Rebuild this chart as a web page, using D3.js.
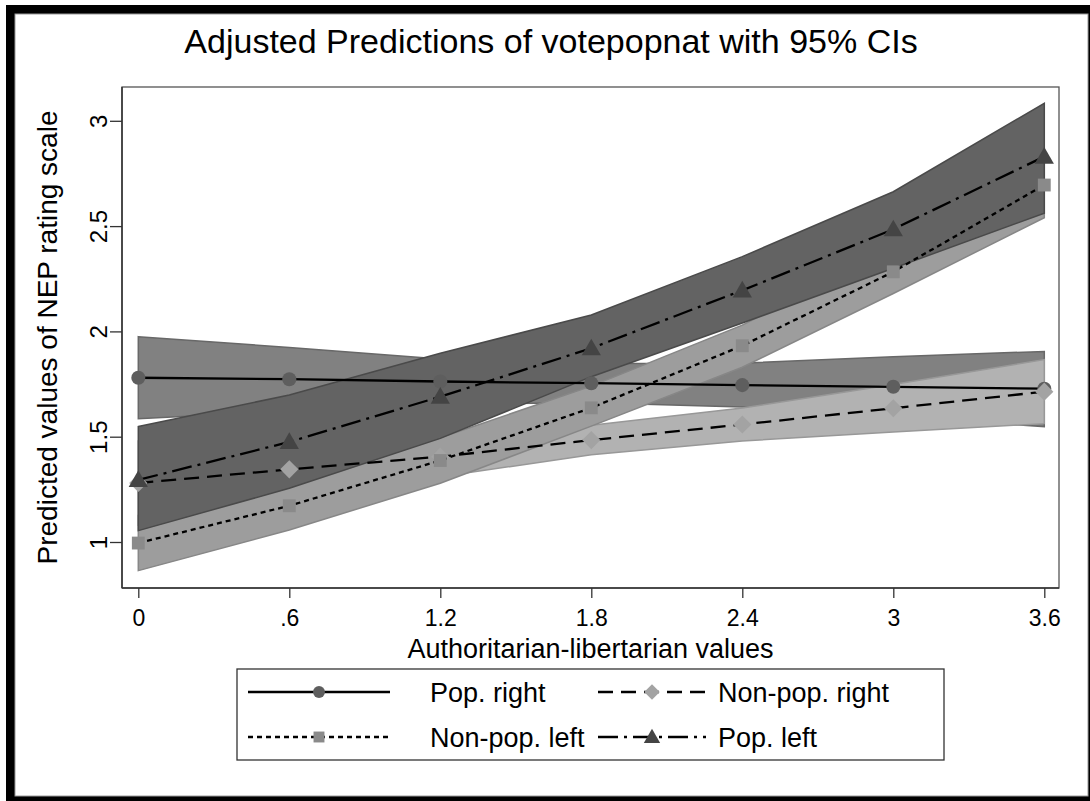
<!DOCTYPE html>
<html>
<head>
<meta charset="utf-8">
<script src="https://cdn.jsdelivr.net/npm/d3@7"></script>
<style>
  html, body { margin: 0; padding: 0; background: #fff; }
  svg { display: block; }
  text { font-family: "Liberation Sans", Arial, sans-serif; fill: #000; }
</style>
</head>
<body>
<svg id="chart" width="1090" height="801"></svg>
<script>
// ---------------- data ----------------
const xValues = [0, 0.6, 1.2, 1.8, 2.4, 3, 3.6];
const xTickLabels = ["0", ".6", "1.2", "1.8", "2.4", "3", "3.6"];
const yTickValues = [1, 1.5, 2, 2.5, 3];
const yTickLabels = ["1", "1.5", "2", "2.5", "3"];

const seriesNames = ["Pop. right", "Non-pop. right", "Non-pop. left", "Pop. left"];

const popRight      = [1.780, 1.773, 1.762, 1.754, 1.745, 1.737, 1.728];
const popRightLo    = [1.585, 1.622, 1.655, 1.661, 1.641, 1.594, 1.548];
const popRightHi    = [1.975, 1.924, 1.869, 1.847, 1.849, 1.880, 1.905];

const nonPopRight   = [1.280, 1.345, 1.405, 1.484, 1.558, 1.635, 1.714];
const nonPopRightLo = [1.080, 1.205, 1.310, 1.414, 1.480, 1.522, 1.562];
const nonPopRightHi = [1.480, 1.485, 1.500, 1.554, 1.636, 1.748, 1.866];

const nonPopLeft    = [0.995, 1.172, 1.387, 1.637, 1.932, 2.283, 2.695];
const nonPopLeftLo  = [0.864, 1.057, 1.279, 1.550, 1.830, 2.180, 2.540];
const nonPopLeftHi  = [1.126, 1.286, 1.495, 1.740, 2.030, 2.390, 2.850];

const popLeft       = [1.295, 1.475, 1.690, 1.920, 2.195, 2.485, 2.830];
const popLeftLo     = [1.054, 1.255, 1.492, 1.785, 2.040, 2.300, 2.561];
const popLeftHi     = [1.548, 1.698, 1.896, 2.078, 2.355, 2.663, 3.083];

// ---------------- styles ----------------
const styles = [
  { band: "#818181", bandStroke: "#686868", marker: "circle",  mfill: "#5e5e5e", dash: null },
  { band: "#b2b2b2", bandStroke: "#989898", marker: "diamond", mfill: "#a3a3a3", dash: "15,8" },
  { band: "#9d9d9d", bandStroke: "#878787", marker: "square",  mfill: "#8a8a8a", dash: "5,4" },
  { band: "#636363", bandStroke: "#4a4a4a", marker: "triangle",mfill: "#444444", dash: "20,6,3,6" }
];

const series = [
  { name: seriesNames[0], mid: popRight,    lo: popRightLo,    hi: popRightHi },
  { name: seriesNames[1], mid: nonPopRight, lo: nonPopRightLo, hi: nonPopRightHi },
  { name: seriesNames[2], mid: nonPopLeft,  lo: nonPopLeftLo,  hi: nonPopLeftHi },
  { name: seriesNames[3], mid: popLeft,     lo: popLeftLo,     hi: popLeftHi }
];

const svg = d3.select("#chart");

// outer frame
svg.append("rect").attr("x", 6).attr("y", 5).attr("width", 1090).attr("height", 801).attr("fill", "#000");
svg.append("rect").attr("x", 15).attr("y", 14).attr("width", 1073).attr("height", 782).attr("fill", "#fff")
  .attr("stroke", "#9a9a9a").attr("stroke-width", 1);

// plot region
const plot = { left: 122, right: 1059, top: 87, bottom: 588 };
const x = d3.scaleLinear().domain([0, 3.6]).range([138.3, 1044.3]);
const y = d3.scaleLinear().domain([1, 3]).range([542, 120.8]);

svg.append("rect").attr("x", plot.left).attr("y", plot.top)
  .attr("width", plot.right - plot.left).attr("height", plot.bottom - plot.top)
  .attr("fill", "#fff").attr("stroke", "#555").attr("stroke-width", 1.3);

// bands
const area = d3.area().x(d => x(d.x)).y0(d => y(d.lo)).y1(d => y(d.hi)).curve(d3.curveLinear);
series.forEach((s, i) => {
  const pts = xValues.map((xv, k) => ({ x: xv, lo: s.lo[k], hi: s.hi[k] }));
  svg.append("path").datum(pts).attr("d", area)
    .attr("fill", styles[i].band).attr("stroke", styles[i].bandStroke).attr("stroke-width", 1.5);
});

// lines + markers
const line = d3.line().x(d => x(d.x)).y(d => y(d.v));
const symbolFor = {
  circle: d3.symbol().type(d3.symbolCircle).size(155),
  diamond: d3.symbol().type(d3.symbolSquare).size(165),
  square: d3.symbol().type(d3.symbolSquare).size(165),
  triangle: d3.symbol().type(d3.symbolTriangle).size(160)
};
function drawMarker(g, type, cx, cy, fill, scale) {
  const sc = scale || 1;
  let rot = type === "diamond" ? 45 : 0;
  let dy = type === "triangle" ? 1.5 * sc : 0;
  g.append("path").attr("d", symbolFor[type]())
    .attr("transform", `translate(${cx},${cy + dy}) rotate(${rot}) scale(${sc})`)
    .attr("fill", fill);
}
series.forEach((s, i) => {
  const pts = xValues.map((xv, k) => ({ x: xv, v: s.mid[k] }));
  const p = svg.append("path").datum(pts).attr("d", line)
    .attr("fill", "none").attr("stroke", "#000").attr("stroke-width", 2.3);
  if (styles[i].dash) p.attr("stroke-dasharray", styles[i].dash);
  const g = svg.append("g");
  pts.forEach(d => drawMarker(g, styles[i].marker, x(d.x), y(d.v), styles[i].mfill));
});

// axes
const xAxis = d3.axisBottom(x).tickValues(xValues).tickFormat((d, i) => xTickLabels[i]).tickSize(10).tickSizeOuter(0);
const gx = svg.append("g").attr("transform", `translate(0,${plot.bottom})`).call(xAxis);
gx.select(".domain").remove();
gx.selectAll(".tick line").attr("stroke", "#333").attr("stroke-width", 1.3);
gx.selectAll(".tick text").attr("font-size", 23).attr("dy", "0").attr("y", 38)
  .attr("font-family", "Liberation Sans, Arial, sans-serif").attr("fill", "#000");

const yAxis = d3.axisLeft(y).tickValues(yTickValues).tickFormat((d, i) => yTickLabels[i]).tickSize(12).tickSizeOuter(0);
const gy = svg.append("g").attr("transform", `translate(${plot.left},0)`).call(yAxis);
gy.select(".domain").remove();
gy.selectAll(".tick line").attr("stroke", "#333").attr("stroke-width", 1.3);
gy.selectAll(".tick text").attr("font-size", 24)
  .attr("font-family", "Liberation Sans, Arial, sans-serif").attr("fill", "#000")
  .attr("x", null).attr("dy", null)
  .attr("text-anchor", "middle")
  .attr("transform", "translate(-15,0) rotate(-90)");

svg.append("line").attr("x1", plot.left).attr("x2", plot.left).attr("y1", plot.top).attr("y2", plot.bottom)
  .attr("stroke", "#333").attr("stroke-width", 1.5);
svg.append("line").attr("x1", plot.left).attr("x2", plot.right).attr("y1", plot.bottom).attr("y2", plot.bottom)
  .attr("stroke", "#333").attr("stroke-width", 1.5);

// titles
svg.append("text").attr("x", 551).attr("y", 53).attr("text-anchor", "middle")
  .attr("font-size", 34).text("Adjusted Predictions of votepopnat with 95% CIs");
svg.append("text").attr("x", (plot.left + plot.right) / 2).attr("y", 658).attr("text-anchor", "middle")
  .attr("font-size", 27).text("Authoritarian-libertarian values");
svg.append("text").attr("transform", `translate(57,${(plot.top + plot.bottom) / 2}) rotate(-90)`)
  .attr("text-anchor", "middle").attr("font-size", 28).text("Predicted values of NEP rating scale");

// legend
const leg = { x: 237, y: 669, w: 707, h: 91 };
svg.append("rect").attr("x", leg.x).attr("y", leg.y).attr("width", leg.w).attr("height", leg.h)
  .attr("fill", "#fff").attr("stroke", "#333").attr("stroke-width", 1.3);
const legendPos = [
  { i: 0, kx0: 248, kx1: 390, ty: 692, tx: 430 },
  { i: 1, kx0: 598, kx1: 706, ty: 692, tx: 718 },
  { i: 2, kx0: 248, kx1: 390, ty: 737, tx: 430 },
  { i: 3, kx0: 598, kx1: 706, ty: 737, tx: 718 }
];
legendPos.forEach(lp => {
  const st = styles[lp.i];
  const l = svg.append("line").attr("x1", lp.kx0).attr("x2", lp.kx1).attr("y1", lp.ty).attr("y2", lp.ty)
    .attr("stroke", "#000").attr("stroke-width", 2.3);
  if (st.dash) l.attr("stroke-dasharray", st.dash);
  drawMarker(svg, st.marker, (lp.kx0 + lp.kx1) / 2, lp.ty, st.mfill, 0.85);
  svg.append("text").attr("x", lp.tx).attr("y", lp.ty + 10).attr("font-size", 27).text(series[lp.i].name);
});
</script>
</body>
</html>
